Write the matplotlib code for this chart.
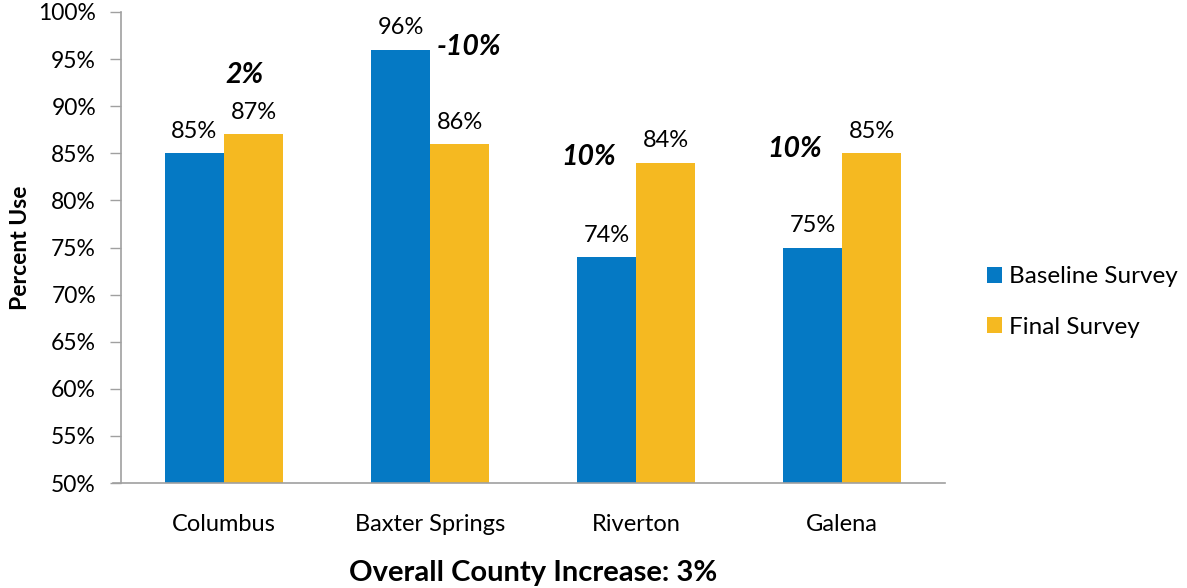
import matplotlib
matplotlib.use("Agg")
import matplotlib.pyplot as plt
import numpy as np

categories = ["Columbus", "Baxter Springs", "Riverton", "Galena"]
baseline = [85, 96, 74, 75]
final = [87, 86, 84, 85]
changes = ["2%", "-10%", "10%", "10%"]
change_pos = [(0.10, 93.3), (1.19, 96.3), (1.77, 84.6), (2.77, 85.5)]
yticks = [50, 55, 60, 65, 70, 75, 80, 85, 90, 95, 100]

plt.rcParams['font.family'] = ['Lato', 'DejaVu Sans']
BLUE = "#0579C4"
YELLOW = "#F5B921"

fig = plt.figure(figsize=(11.87, 5.88), dpi=100)
ax = fig.add_axes([121/1187, 1-483/588, (945-121)/1187, (483-12)/588])

x = np.arange(len(categories))
w = 59/206
b1 = ax.bar(x - w/2, baseline, w, color=BLUE, label="Baseline Survey")
b2 = ax.bar(x + w/2, final, w, color=YELLOW, label="Final Survey")

for xi, v in zip(x - w/2, baseline):
    ax.text(xi, v + 1.2, f"{v}%", ha="center", va="bottom", fontsize=17)
for xi, v in zip(x + w/2, final):
    ax.text(xi, v + 1.2, f"{v}%", ha="center", va="bottom", fontsize=17)
for t, (px, py) in zip(changes, change_pos):
    ax.text(px, py, t, ha="center", va="center", fontsize=20.5, fontweight="bold", fontstyle="italic")

ax.set_xlim(-0.5, 3.5)
ax.set_ylim(50, 100)
ax.set_yticks(yticks)
ax.set_yticklabels([f"{t}%" for t in yticks], fontsize=16.5)
ax.set_xticks(x)
ax.set_xticklabels(categories, fontsize=17)
ax.tick_params(axis="x", length=0, pad=22)
ax.tick_params(axis="y", length=8, width=1, color="#A0A0A0", pad=10)
for s in ["top", "right"]:
    ax.spines[s].set_visible(False)
for s in ["left", "bottom"]:
    ax.spines[s].set_color("#A0A0A0")
    ax.spines[s].set_linewidth(1.2)
ax.spines["bottom"].set_bounds(-0.5 - 8/206, 3.5)

ax.set_ylabel("Percent Use", fontsize=16.5, fontweight="bold", labelpad=5)
ax.set_xlabel("Overall County Increase: 3%", fontsize=21, fontweight="bold", labelpad=18)

leg = fig.legend(handles=[b1, b2], loc="center left", bbox_to_anchor=(987/1187, 1-302/588),
                 frameon=False, fontsize=17.5, handlelength=0.6, handleheight=0.6,
                 handletextpad=0.3, labelspacing=1.2, borderpad=0, borderaxespad=0)

fig.savefig("out.png", dpi=100)
